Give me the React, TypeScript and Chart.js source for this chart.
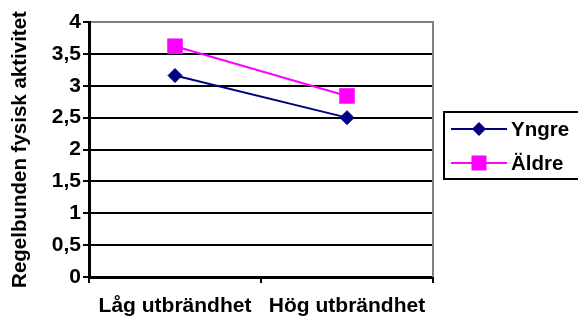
import React, { useEffect, useRef } from "react";
import { Chart, registerables } from "chart.js";

Chart.register(...registerables);

const categories = ["Låg utbrändhet", "Hög utbrändhet"];
const yngre = [3.16, 2.5];
const aldre = [3.62, 2.84];
const seriesNames = ["Yngre", "Äldre"];
const yTitle = "Regelbunden fysisk aktivitet";

const FONT = "'Liberation Sans', Arial, sans-serif";
const NAVY = "#000080";
const MAGENTA = "#FF00FF";

const framePlugin = {
  id: "frame",
  afterDraw(chart: any) {
    const { ctx, chartArea } = chart;
    ctx.save();
    ctx.strokeStyle = "#808080";
    ctx.lineWidth = 2;
    ctx.beginPath();
    ctx.moveTo(chartArea.right, chartArea.top - 1);
    ctx.lineTo(chartArea.right, chartArea.bottom);
    ctx.stroke();
    ctx.restore();
  },
};

const legendPlugin = {
  id: "boxLegend",
  afterDraw(chart: any) {
    const { ctx } = chart;
    ctx.save();
    const bx = 444;
    const by = 112;
    const bw = 150;
    const bh = 67;
    ctx.strokeStyle = "#000";
    ctx.lineWidth = 2;
    ctx.strokeRect(bx, by, bw, bh);
    const rows = [129, 163];
    chart.data.datasets.forEach((ds: any, i: number) => {
      const y = rows[i];
      ctx.strokeStyle = ds.borderColor;
      ctx.lineWidth = 2;
      ctx.beginPath();
      ctx.moveTo(451, y);
      ctx.lineTo(507, y);
      ctx.stroke();
      ctx.fillStyle = ds.pointBackgroundColor;
      ctx.beginPath();
      if (ds.pointStyle === "rectRot") {
        const r = 7;
        ctx.moveTo(479 - r, y);
        ctx.lineTo(479, y - r);
        ctx.lineTo(479 + r, y);
        ctx.lineTo(479, y + r);
        ctx.closePath();
      } else {
        ctx.rect(479 - 7.5, y - 7.5, 15, 15);
      }
      ctx.fill();
      ctx.fillStyle = "#000";
      ctx.font = `bold 20.5px ${FONT}`;
      ctx.textBaseline = "middle";
      ctx.textAlign = "left";
      ctx.fillText(ds.label, 511, y + 1);
    });
    ctx.restore();
  },
};

export default function App() {
  const ref = useRef<HTMLCanvasElement | null>(null);
  useEffect(() => {
    if (!ref.current) return;
    const chart = new Chart(ref.current, {
      type: "line",
      data: {
        labels: categories,
        datasets: [
          {
            label: seriesNames[0],
            data: yngre,
            borderColor: NAVY,
            backgroundColor: NAVY,
            pointBackgroundColor: NAVY,
            pointBorderColor: NAVY,
            pointStyle: "rectRot",
            pointRadius: 7,
            pointBorderWidth: 1,
            borderWidth: 2,
          },
          {
            label: seriesNames[1],
            data: aldre,
            borderColor: MAGENTA,
            backgroundColor: MAGENTA,
            pointBackgroundColor: MAGENTA,
            pointBorderColor: MAGENTA,
            pointStyle: "rect",
            pointRadius: 11,
            pointBorderWidth: 0,
            borderWidth: 2,
          },
        ],
      },
      options: {
        responsive: false,
        animation: false,
        layout: { padding: { top: 22, right: 145, left: 0, bottom: 0 } },
        plugins: {
          legend: { display: false },
          tooltip: { enabled: false },
        },
        scales: {
          x: {
            offset: true,
            grid: {
              offset: true,
              drawOnChartArea: false,
              drawTicks: true,
              tickLength: 6,
              color: "#000",
              lineWidth: 2,
            },
            border: { color: "#000", width: 3 },
            ticks: {
              color: "#000",
              font: { family: FONT, size: 21, weight: "bold" },
              padding: 11,
              maxRotation: 0,
            },
            afterFit(scale: any) {
              scale.height = 43;
            },
          },
          y: {
            min: 0,
            max: 4,
            grid: {
              color: (c: any) => (c.tick && c.tick.value === 4 ? "#808080" : "#000"),
              lineWidth: 2,
              tickColor: "#000",
              tickLength: 6,
            },
            border: { color: "#000", width: 3 },
            ticks: {
              stepSize: 0.5,
              color: "#000",
              padding: 2,
              font: { family: FONT, size: 21, weight: "bold" },
              callback: (v: any) => String(v).replace(".", ","),
            },
            title: {
              display: true,
              text: yTitle,
              color: "#000",
              font: { family: FONT, size: 20.5, weight: "bold" },
              padding: { top: 8, bottom: 0 },
            },
            afterFit(scale: any) {
              scale.width = 89;
            },
          },
        },
      },
      plugins: [framePlugin, legendPlugin],
    });
    return () => chart.destroy();
  }, []);
  return (
    <div style={{ position: "absolute", left: 0, top: 0, width: 578, height: 320, background: "#fff" }}>
      <canvas ref={ref} width={578} height={320} />
    </div>
  );
}
